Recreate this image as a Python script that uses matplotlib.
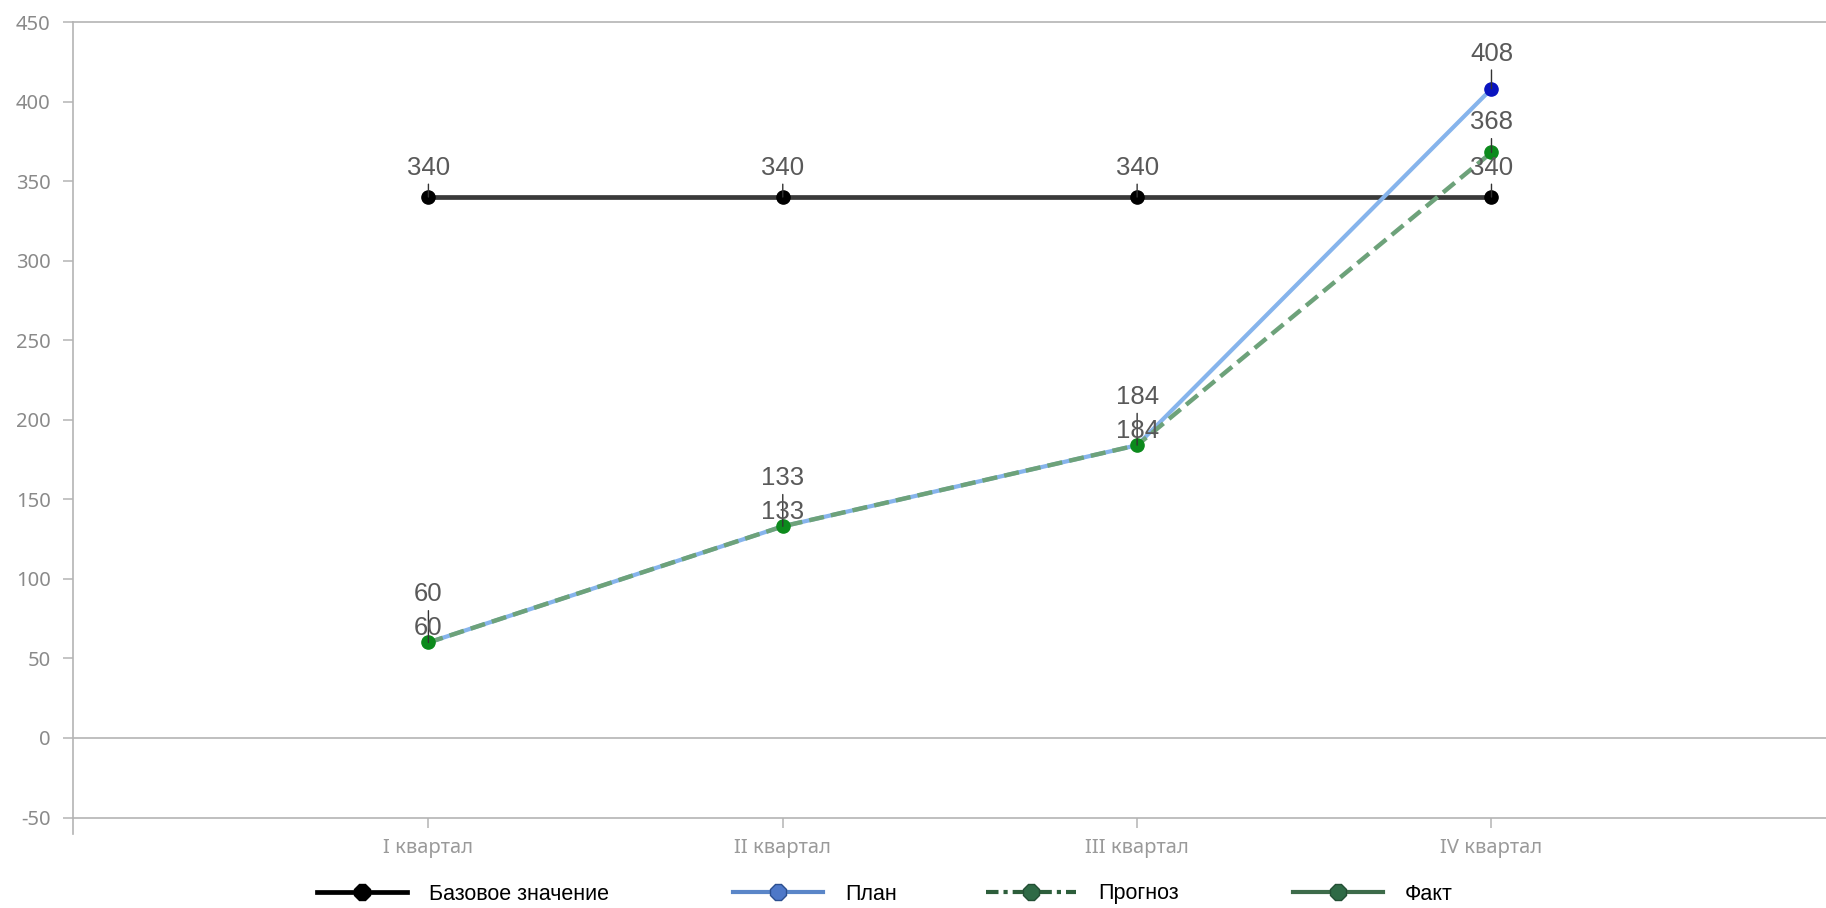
import numpy as np
import matplotlib
matplotlib.use("Agg")
import matplotlib.pyplot as plt
from matplotlib.lines import Line2D

plt.rcParams["axes.unicode_minus"] = False

categories = ["I квартал", "II квартал", "III квартал", "IV квартал"]
base_values = [340, 340, 340, 340]
plan_values = [60, 133, 184, 408]
forecast_values = [60, 133, 184, 368]
fact_values = [60, 133, 184, np.nan]
y_ticks = [-50, 0, 50, 100, 150, 200, 250, 300, 350, 400, 450]
legend_labels = ["Базовое значение", "План", "Прогноз", "Факт"]

DPI = 100
W, H = 1826, 908
fig = plt.figure(figsize=(W / DPI, H / DPI), dpi=DPI)
ax = fig.add_axes([73 / W, 1 - 817.5 / H, 1 - 73 / W, (817.5 - 22) / H])

x = np.arange(len(categories))
grid_c = "#b4b4b4"

# lines
ax.plot(x, base_values, color="#3a3a3a", lw=3.4, zorder=3,
        marker="o", ms=9.5, mfc="black", mec="black")
ax.plot(x, plan_values, color="#86b4ec", lw=3.0, zorder=4)
ax.plot(x[-1:], plan_values[-1:], ls="none", marker="o", ms=9.5,
        mfc="#0a14c0", mec="#0a14c0", zorder=7)
ax.plot(x, forecast_values, color="#6da27a", lw=3.2, ls=(0, (3.4, 1.6)), zorder=5)
ax.plot(x[-1:], forecast_values[-1:], ls="none", marker="o", ms=9.5,
        mfc="#0c8a1c", mec="#0c8a1c", zorder=7)
ax.plot(x, fact_values, ls="none", marker="o", ms=9.5,
        mfc="#0c8a1c", mec="#0c8a1c", zorder=7)

px = 72.0 / DPI  # pixels -> points
label_kw = dict(textcoords="offset points", ha="center", va="center",
                fontsize=18.5, color="#595959", family="Liberation Sans", zorder=8)
leader = dict(arrowstyle="-", color="#333333", lw=1.0, shrinkA=1, shrinkB=0)

def label(xi, yi, val, off_px, with_leader=True):
    kw = dict(label_kw)
    if with_leader:
        kw["arrowprops"] = leader
    ax.annotate(f"{val:g}", xy=(xi, yi), xytext=(0, off_px * px), **kw)

for xi, v in zip(x, base_values):
    label(xi, v, v, 29)
for xi, v in zip(x[:3], forecast_values[:3]):
    label(xi, v, v, 48)
for xi, v in zip(x[:3], fact_values[:3]):
    label(xi, v, v, 14, with_leader=False)
label(x[3], plan_values[3], plan_values[3], 35)
label(x[3], forecast_values[3], forecast_values[3], 30)

# axes styling
ax.set_xlim(-1.003, 3.944)
ax.set_ylim(-50, 450)
ax.set_yticks(y_ticks)
ax.set_xticks(x)
ax.set_xticklabels(categories, family="Noto Sans")
for t in ax.get_yticklabels():
    t.set_family("Noto Sans")
for s in ["left", "top", "bottom"]:
    ax.spines[s].set_color(grid_c)
    ax.spines[s].set_linewidth(1.2)
ax.spines["right"].set_visible(False)
ax.axhline(0, color=grid_c, lw=1.2, zorder=1)
ax.plot([0, 0], [0, -16 / 795.5], transform=ax.transAxes, color=grid_c,
        lw=1.2, clip_on=False)

ax.tick_params(axis="y", direction="out", length=7, width=1.1, color=grid_c,
               labelsize=14.5, labelcolor="#8a8a8a", pad=9)
ax.tick_params(axis="x", direction="out", length=7, width=1.1, color=grid_c,
               labelsize=14.5, labelcolor="#9a9a9a", pad=8)

# legend: one entry per legend so each sits where the reference has it
handles = [
    Line2D([], [], color="black", lw=3.4, marker="8", ms=12.5, mfc="black", mec="black"),
    Line2D([], [], color="#5a86c8", lw=3.0, marker="8", ms=12.5, mfc="#4e78c8", mec="#2c4f90"),
    Line2D([], [], color="#2d5e3b", lw=3.0, ls=(0, (3, 1.2, 1, 1.2)), marker="8", ms=12.5,
           mfc="#2f6a46", mec="#244f35"),
    Line2D([], [], color="#3d6b4a", lw=3.0, marker="8", ms=12.5, mfc="#2f6a46", mec="#244f35"),
]
leg_x = [317, 733, 986, 1293]
for h, lab, lx in zip(handles, legend_labels, leg_x):
    fig.legend([h], [lab], loc="center left", bbox_to_anchor=(lx / W, 1 - 894 / H),
               frameon=False, prop=dict(family="Liberation Sans", size=15.5),
               handlelength=4.2, handletextpad=1.0, borderpad=0, borderaxespad=0)

fig.savefig("out.png", dpi=DPI)
